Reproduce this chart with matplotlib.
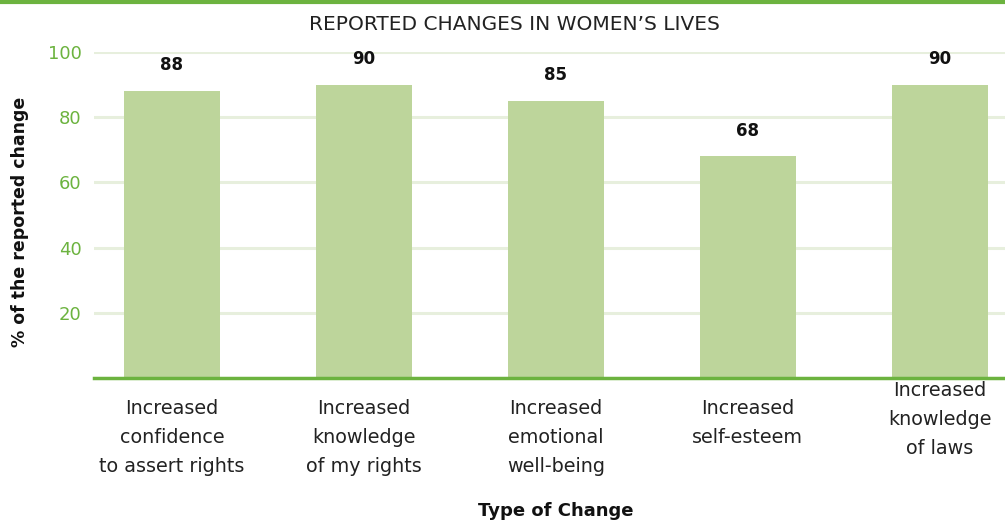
import numpy as np
import matplotlib.pyplot as plt

categories = ['Increased\nconfidence\nto assert rights',
              'Increased\nknowledge\nof my rights',
              'Increased\nemotional\nwell-being',
              'Increased\nself-esteem',
              'Increased\nknowledge\nof laws']
values = [88, 90, 85, 68, 90]
yticks = [20, 40, 60, 80, 100]

plt.rcParams['font.family'] = ['DejaVu Sans']

green = '#6cb33f'
bar_color = '#bdd59b'
grid_color = '#e7efdd'

fig = plt.figure(figsize=(10.05, 5.21), dpi=100)
ax = fig.add_axes([94 / 1005, 1 - 378 / 521, 1 - 94 / 1005, (378 - 52) / 521])

x = np.arange(len(values))
ax.bar(x, values, width=0.5, color=bar_color, zorder=2)

# value labels above bars
for xi, v in zip(x, values):
    ax.annotate(str(v), (xi, v), xytext=(0, 12), textcoords='offset points',
                ha='center', va='bottom', fontsize=12, fontweight='semibold',
                color='#111111', clip_on=False)

ax.set_xlim(-0.406, 4.339)
ax.set_ylim(0, 100)
ax.set_yticks(yticks)
ax.set_yticklabels([str(t) for t in yticks])
ax.tick_params(axis='y', length=0, pad=9, labelsize=13, labelcolor=green)
ax.tick_params(axis='x', length=0)
ax.set_xticks([])
for t in yticks:
    ax.axhline(t, color=grid_color, linewidth=2.2, zorder=1)

for side in ['top', 'right', 'left']:
    ax.spines[side].set_visible(False)
ax.spines['bottom'].set_color(green)
ax.spines['bottom'].set_linewidth(2.5)
ax.spines['bottom'].set_zorder(3)

# category labels under the axis
for xi, lab in zip(x, categories):
    y_off = -2 if xi == 4 else -15
    ax.annotate(lab, (xi, 0), xytext=(0, y_off), textcoords='offset points',
                ha='center', va='top', fontsize=13.8, color='#222222',
                linespacing=1.66, annotation_clip=False)

fig.text(514 / 1005, 1 - 25 / 521, 'REPORTED CHANGES IN WOMEN\u2019S LIVES',
         ha='center', va='center', fontsize=14.5, color='#222222')
fig.text(556 / 1005, 1 - 511 / 521, 'Type of Change', ha='center', va='center',
         fontsize=13, fontweight='semibold', color='#111111')
fig.text(20 / 1005, 1 - 222 / 521, '% of the reported change', ha='center',
         va='center', rotation=90, fontsize=12.5, fontweight='semibold', color='#111111')

# green rule across the top
fig.add_artist(plt.Line2D([0, 1], [1 - 2 / 521, 1 - 2 / 521], color=green,
                          linewidth=3, transform=fig.transFigure))

fig.savefig('out.png', dpi=100)
